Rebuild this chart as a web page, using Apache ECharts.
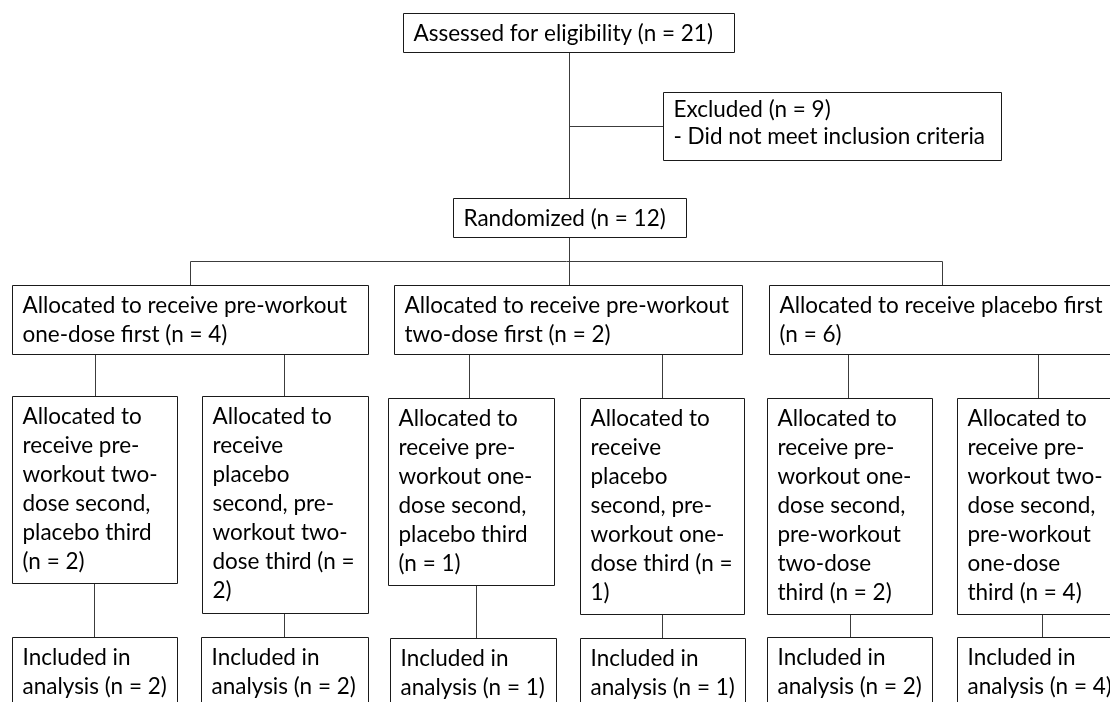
<!DOCTYPE html>
<html>
<head>
<meta charset="utf-8">
<script src="https://cdn.jsdelivr.net/npm/echarts@6/dist/echarts.min.js"></script>
<style>
  html, body { margin: 0; padding: 0; background: #fff; }
  #flow { width: 1110px; height: 702px; }
</style>
</head>
<body>
<div id="flow"></div>
<script>
// participant counts, one per box (top to bottom, left to right)
var counts = [21, 9, 12, 4, 2, 6, 2, 2, 1, 1, 2, 4, 2, 2, 1, 1, 2, 4];

// box texts, {n} gets the count
var boxTexts = [
  'Assessed for eligibility (n = {n})',
  'Excluded (n = {n})\n- Did not meet inclusion criteria',
  'Randomized (n = {n})',
  'Allocated to receive pre-workout\none-dose first (n = {n})',
  'Allocated to receive pre-workout\ntwo-dose first (n = {n})',
  'Allocated to receive placebo first\n(n = {n})',
  'Allocated to\nreceive pre-\nworkout two-\ndose second,\nplacebo third\n(n = {n})',
  'Allocated to\nreceive\nplacebo\nsecond, pre-\nworkout two-\ndose third (n =\n{n})',
  'Allocated to\nreceive pre-\nworkout one-\ndose second,\nplacebo third\n(n = {n})',
  'Allocated to\nreceive\nplacebo\nsecond, pre-\nworkout one-\ndose third (n =\n{n})',
  'Allocated to\nreceive pre-\nworkout one-\ndose second,\npre-workout\ntwo-dose\nthird (n = {n})',
  'Allocated to\nreceive pre-\nworkout two-\ndose second,\npre-workout\none-dose\nthird (n = {n})',
  'Included in\nanalysis (n = {n})',
  'Included in\nanalysis (n = {n})',
  'Included in\nanalysis (n = {n})',
  'Included in\nanalysis (n = {n})',
  'Included in\nanalysis (n = {n})',
  'Included in\nanalysis (n = {n})'
];

// layout: box extents [x0, y0, x1, y1] in chart units
var boxRects = [
  [403, 13, 734, 52],
  [663, 92, 1001, 160],
  [453, 198, 686, 237],
  [12, 285, 368, 354],
  [394, 285, 742, 354],
  [769, 285, 1120, 354],
  [12, 396, 177, 583],
  [202, 396, 368, 613],
  [388, 398, 554, 585],
  [580, 398, 744, 614],
  [767, 398, 932, 614],
  [957, 398, 1122, 614],
  [12, 637, 177, 720],
  [201, 637, 368, 720],
  [390, 638, 556, 720],
  [580, 638, 745, 720],
  [767, 637, 932, 720],
  [957, 637, 1122, 720]
];

// layout: connector segments
var links = [
  [[569, 52], [569, 198]],
  [[569, 126], [663, 126]],
  [[569, 237], [569, 285]],
  [[190, 261], [942, 261]],
  [[190, 261], [190, 285]],
  [[942, 261], [942, 285]],
  [[95, 354], [95, 396]],
  [[284, 354], [284, 396]],
  [[469, 354], [469, 398]],
  [[662, 354], [662, 398]],
  [[848, 354], [848, 398]],
  [[1038, 354], [1038, 398]],
  [[94, 583], [94, 637]],
  [[284, 613], [284, 637]],
  [[476, 585], [476, 638]],
  [[662, 614], [662, 638]],
  [[850, 614], [850, 637]],
  [[1042, 614], [1042, 637]]
];

var FONT = '22.5px Lato, "Noto Sans", sans-serif';

function crisp (v) { return Math.round(v) + 0.5; }

function renderBox (params, api) {
  var i = api.value(0);
  var r = boxRects[i];
  var p0 = api.coord([r[0], r[1]]);
  var p1 = api.coord([r[2], r[3]]);
  var x = crisp(p0[0]), y = crisp(p0[1]);
  var txt = boxTexts[i].replace('{n}', counts[i]);
  return {
    type: 'group',
    children: [{
      type: 'rect',
      shape: { x: x, y: y, width: Math.round(p1[0] - p0[0]), height: Math.round(p1[1] - p0[1]) },
      style: { fill: '#fff', stroke: '#1a1a1a', lineWidth: 1 }
    }, {
      type: 'text',
      style: {
        x: x + 10,
        y: y + (i == 1 ? 4 : 6),
        text: txt,
        font: FONT,
        lineHeight: i == 1 ? 27 : 29,
        fill: '#000',
        verticalAlign: 'top',
        align: 'left'
      }
    }]
  };
}

function renderLink (params, api) {
  var s = links[api.value(0)];
  var a = api.coord(s[0]);
  var b = api.coord(s[1]);
  return {
    type: 'line',
    shape: { x1: crisp(a[0]), y1: crisp(a[1]), x2: crisp(b[0]), y2: crisp(b[1]) },
    style: { stroke: '#3c3c3c', lineWidth: 1 }
  };
}

var option = {
  animation: false,
  grid: { left: 0, right: 0, top: 0, bottom: 0 },
  xAxis: { type: 'value', min: 0, max: 1110, show: false },
  yAxis: { type: 'value', min: 0, max: 702, inverse: true, show: false },
  series: [{
    type: 'custom',
    name: 'links',
    renderItem: renderLink,
    data: links.map(function (d, i) { return [i]; }),
    z: 1
  }, {
    type: 'custom',
    name: 'boxes',
    renderItem: renderBox,
    data: boxRects.map(function (d, i) { return [i]; }),
    clip: false,
    z: 2
  }]
};

var myChart = echarts.init(document.getElementById('flow'));
myChart.setOption(option);
</script>
</body>
</html>
